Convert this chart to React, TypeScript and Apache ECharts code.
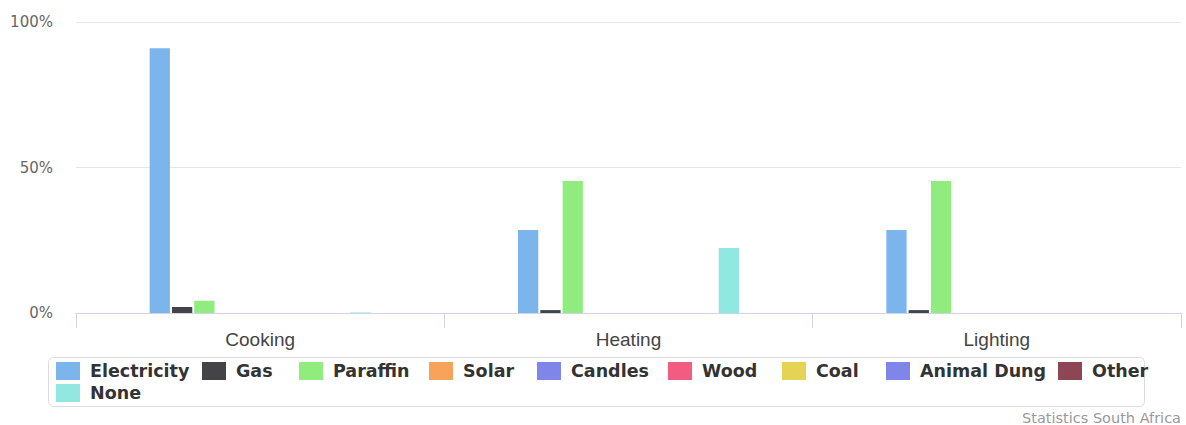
import React, { useEffect, useRef } from "react";
import * as echarts from "echarts";

const categories = ["Cooking", "Heating", "Lighting"];
const seriesNames = ["Electricity", "Gas", "Paraffin", "Solar", "Candles", "Wood", "Coal", "Animal Dung", "Other", "None"];
const electricity = [91.0, 28.5, 28.5];
const gas = [2.1, 1.0, 1.0];
const paraffin = [4.2, 45.4, 45.4];
const solar = [0, 0, 0];
const candles = [0, 0, 0];
const wood = [0, 0, 0];
const coal = [0, 0, 0];
const animalDung = [0, 0, 0];
const other = [0, 0, 0];
const none = [0.2, 22.3, 0];
const seriesValues = [electricity, gas, paraffin, solar, candles, wood, coal, animalDung, other, none];
const yTicks = [0, 50, 100];
const credit = "Statistics South Africa";

const colors = ["#7cb5ec", "#434348", "#90ed7d", "#f7a35c", "#8085e9", "#f15c80", "#e4d354", "#8085e8", "#8d4653", "#91e8e1"];
const legendTextWidths: Record<string, number | undefined> = {
  Electricity: 112,
  Gas: 63,
  Paraffin: 96,
  Solar: 74,
  Candles: 97,
  Wood: 80,
  Coal: 70,
  "Animal Dung": 138,
};

export default function App() {
  const ref = useRef<HTMLDivElement>(null);
  useEffect(() => {
    if (!ref.current) return;
    const chart = echarts.init(ref.current, undefined, { renderer: "svg" });
    const legendText = {
      fontFamily: "DejaVu Sans",
      fontWeight: "bold" as const,
      fontSize: 17.5,
      color: "#333333",
      lineHeight: 18,
      padding: [0, 0, 0, 5],
    };
    const row1 = seriesNames.slice(0, 9).map((n) => ({
      name: n,
      textStyle: legendTextWidths[n] ? { width: legendTextWidths[n] } : {},
    }));
    chart.setOption({
      animation: false,
      color: colors,
      grid: { left: 76, right: 5, top: 22, bottom: 112, containLabel: false },
      legend: [
        {
          data: row1,
          left: 56,
          top: 362,
          padding: 0,
          itemGap: 0,
          itemWidth: 24,
          itemHeight: 18,
          icon: "rect",
          orient: "horizontal",
          textStyle: legendText,
          selectedMode: false,
        },
        {
          data: [seriesNames[9]],
          left: 56,
          top: 384,
          padding: 0,
          itemGap: 0,
          itemWidth: 24,
          itemHeight: 18,
          icon: "rect",
          textStyle: legendText,
          selectedMode: false,
        },
      ],
      xAxis: {
        type: "category",
        data: categories,
        axisLine: { lineStyle: { color: "#ccd6eb", width: 1 } },
        axisTick: { show: true, length: 15, lineStyle: { color: "#ccd6eb" } },
        axisLabel: {
          margin: 17,
          fontFamily: "Liberation Sans",
          fontSize: 19,
          color: "#444444",
        },
      },
      yAxis: {
        type: "value",
        min: yTicks[0],
        max: yTicks[yTicks.length - 1],
        interval: yTicks[1] - yTicks[0],
        axisLine: { show: false },
        axisTick: { show: false },
        splitLine: { lineStyle: { color: "#e6e6e6", width: 1 } },
        axisLabel: {
          margin: 23,
          fontFamily: "DejaVu Sans",
          fontSize: 15,
          color: "#666666",
          formatter: "{value}%",
        },
      },
      series: seriesNames.map((name, i) => ({
        name,
        type: "bar",
        data: seriesValues[i],
        barCategoryGap: "40%",
        barGap: "10%",
        itemStyle: { color: colors[i] },
      })),
      graphic: [
        {
          type: "rect",
          shape: { x: 48.5, y: 357.5, width: 1096, height: 49, r: 5 },
          style: { fill: "none", stroke: "#dcdce0", lineWidth: 1 },
          silent: true,
        },
        {
          type: "text",
          x: 1181,
          y: 418,
          style: {
            text: credit,
            fill: "#999999",
            font: "14.5px 'DejaVu Sans'",
            textAlign: "right",
            textVerticalAlign: "middle",
          },
        },
      ],
    });
    return () => chart.dispose();
  }, []);
  return (
    <div
      ref={ref}
      style={{ position: "fixed", left: 0, top: 0, width: 1186, height: 425, background: "#ffffff" }}
    />
  );
}
